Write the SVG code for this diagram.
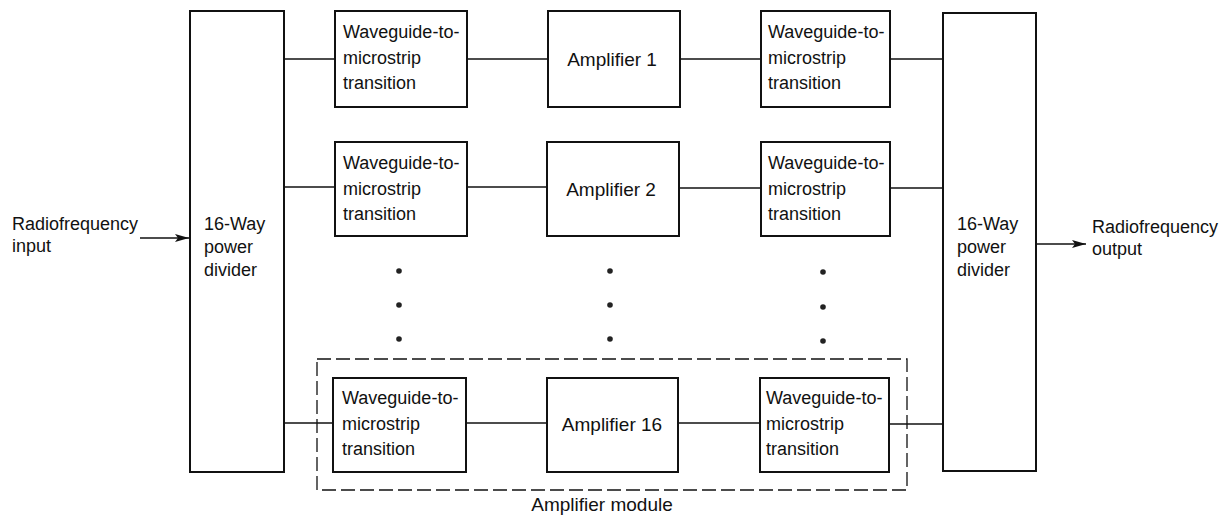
<svg xmlns="http://www.w3.org/2000/svg" width="1231" height="518" viewBox="0 0 1231 518">
<defs>
<style>
text{font-family:"Liberation Sans",Arial,sans-serif;font-size:18px;fill:#111}
.big{font-size:18px}
.amp{font-size:19px}
.box{fill:#fff;stroke:#111;stroke-width:2}
.c{stroke:#111;stroke-width:1.3;fill:none}
.dash{fill:none;stroke:#111;stroke-width:1.3;stroke-dasharray:14 5}
.dot{fill:#222}
</style>
<marker id="ah" viewBox="0 0 14 8" refX="14" refY="4" markerWidth="14" markerHeight="8" markerUnits="userSpaceOnUse" orient="auto">
<path d="M0,0 L14,4 L0,8 L3,4 Z" fill="#111"/>
</marker>
</defs>
<rect width="1231" height="518" fill="#fff"/>

<g id="module">
<rect class="dash" x="317" y="359" width="590" height="131"/>
<text class="amp" x="602" y="511" text-anchor="middle">Amplifier module</text>
</g>

<g id="connectors">
<line class="c" x1="140" y1="238" x2="189" y2="238" marker-end="url(#ah)"/>
<line class="c" x1="1037" y1="244" x2="1086" y2="244" marker-end="url(#ah)"/>
<line class="c" x1="284" y1="59" x2="335" y2="59"/>
<line class="c" x1="467" y1="59" x2="548" y2="59"/>
<line class="c" x1="680" y1="59" x2="761" y2="59"/>
<line class="c" x1="890" y1="59" x2="943" y2="59"/>
<line class="c" x1="284" y1="187" x2="335" y2="187"/>
<line class="c" x1="467" y1="187" x2="547" y2="187"/>
<line class="c" x1="679" y1="188" x2="761" y2="188"/>
<line class="c" x1="890" y1="188" x2="943" y2="188"/>
<line class="c" x1="284" y1="423" x2="333" y2="423"/>
<line class="c" x1="466" y1="423" x2="547" y2="423"/>
<line class="c" x1="678" y1="423" x2="760" y2="423"/>
<line class="c" x1="889" y1="424" x2="943" y2="424"/>
</g>

<g id="input">
<text class="big" x="12" y="230">Radiofrequency</text>
<text class="big" x="12" y="252">input</text>
</g>
<g id="output">
<text class="big" x="1092" y="233">Radiofrequency</text>
<text class="big" x="1092" y="255">output</text>
</g>

<g id="divider-in">
<rect class="box" x="190" y="11" width="94" height="461"/>
<text class="big" x="204" y="230">16-Way</text>
<text class="big" x="204" y="253">power</text>
<text class="big" x="204" y="276">divider</text>
</g>
<g id="divider-out">
<rect class="box" x="943" y="13" width="93" height="458"/>
<text class="big" x="957" y="230">16-Way</text>
<text class="big" x="957" y="253">power</text>
<text class="big" x="957" y="276">divider</text>
</g>

<g id="wg-in-1">
<rect class="box" x="335" y="11" width="132" height="96"/>
<text x="343" y="38">Waveguide-to-</text><text x="343" y="64">microstrip</text><text x="343" y="89">transition</text>
</g>
<g id="amp-1">
<rect class="box" x="548" y="11" width="132" height="96"/>
<text class="amp" x="612" y="66" text-anchor="middle">Amplifier 1</text>
</g>
<g id="wg-out-1">
<rect class="box" x="761" y="11" width="129" height="96"/>
<text x="768" y="38">Waveguide-to-</text><text x="768" y="64">microstrip</text><text x="768" y="89">transition</text>
</g>

<g id="wg-in-2">
<rect class="box" x="335" y="142" width="132" height="94"/>
<text x="343" y="169">Waveguide-to-</text><text x="343" y="195">microstrip</text><text x="343" y="220">transition</text>
</g>
<g id="amp-2">
<rect class="box" x="547" y="142" width="132" height="94"/>
<text class="amp" x="611" y="196" text-anchor="middle">Amplifier 2</text>
</g>
<g id="wg-out-2">
<rect class="box" x="761" y="142" width="129" height="94"/>
<text x="768" y="169">Waveguide-to-</text><text x="768" y="195">microstrip</text><text x="768" y="220">transition</text>
</g>

<g id="ellipsis">
<circle class="dot" cx="399" cy="271" r="2.8"/><circle class="dot" cx="399" cy="305" r="2.8"/><circle class="dot" cx="399" cy="339" r="2.8"/>
<circle class="dot" cx="610" cy="271" r="2.8"/><circle class="dot" cx="610" cy="305" r="2.8"/><circle class="dot" cx="610" cy="339" r="2.8"/>
<circle class="dot" cx="823" cy="272" r="2.8"/><circle class="dot" cx="823" cy="307" r="2.8"/><circle class="dot" cx="823" cy="341" r="2.8"/>
</g>

<g id="wg-in-16">
<rect class="box" x="333" y="378" width="133" height="94"/>
<text x="342" y="404">Waveguide-to-</text><text x="342" y="430">microstrip</text><text x="342" y="455">transition</text>
</g>
<g id="amp-16">
<rect class="box" x="547" y="378" width="131" height="94"/>
<text class="amp" x="612" y="431" text-anchor="middle">Amplifier 16</text>
</g>
<g id="wg-out-16">
<rect class="box" x="760" y="378" width="129" height="94"/>
<text x="766" y="404">Waveguide-to-</text><text x="766" y="430">microstrip</text><text x="766" y="455">transition</text>
</g>
</svg>
